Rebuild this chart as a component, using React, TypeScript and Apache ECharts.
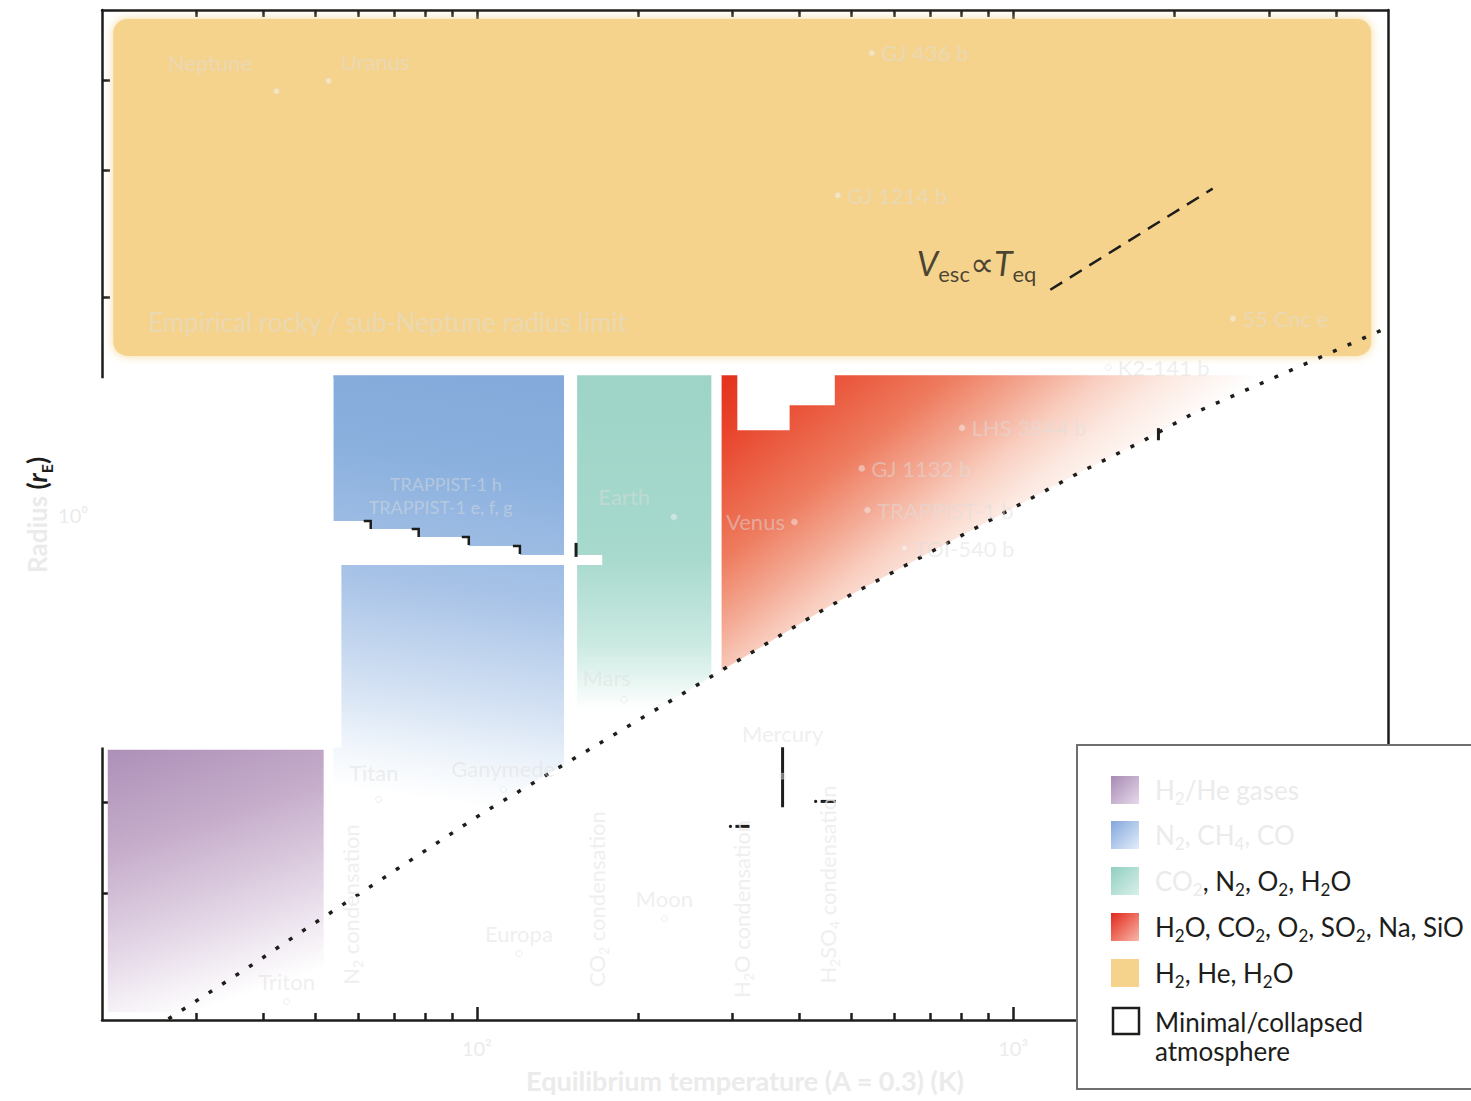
import React, { useEffect, useRef } from "react";
import * as echarts from "echarts";

// ---------------- axes ----------------
const T_MIN = 20;
const T_MAX = 5000;
const R_MIN = 0.2;
const R_MAX = 5;
const T_MINOR_TICKS = [30, 40, 50, 60, 70, 80, 90, 200, 300, 400, 500, 600, 700, 800, 900, 2000, 3000, 4000];
const T_MAJOR_TICKS = [100, 1000];
const T_TICK_LABELS = ["10²", "10³"];
const R_MINOR_TICKS = [0.3, 0.4, 0.5, 0.6, 0.7, 0.8, 0.9, 2, 3, 4];
const R_MAJOR_TICKS = [1];
const R_TICK_LABELS = ["10⁰"];
const X_TITLE = "Equilibrium temperature (A = 0.3) (K)";

// ---------------- regions: [T (K), radius (rE)] ----------------
const H2_HE_REGION = [[21, 4.86], [4650, 1.66]];
const COLD_REGION = [[20.5, 0.4734], [51.8, 0.4734], [51.8, 0.205], [20.5, 0.205]];
const N2_CH4_REGION = [[54.0, 1.561], [145.4, 1.561], [145.4, 0.4516], [103.1, 0.3877], [70.9, 0.3233], [55.9, 0.2884], [54.0, 0.2884]];
const CO2_N2_REGION = [[153.8, 1.561], [273.7, 1.561], [273.7, 0.5974], [153.8, 0.463]];
const HOT_REGION = [
  [286, 1.561], [306, 1.561], [306, 1.31], [383, 1.31], [383, 1.419], [465, 1.419], [465, 1.561],
  [3155, 1.561], [2170, 1.383], [1728, 1.261], [1334, 1.1465], [623, 0.8477], [449, 0.7442], [286, 0.609],
];
const ERASED_REGION = [
  [19.2, 1.546], [54.0, 1.546], [54.0, 0.981], [63.4, 0.981], [63.4, 0.9565], [77.9, 0.9565],
  [77.9, 0.9324], [96.6, 0.9324], [96.6, 0.9061], [120.3, 0.9061], [120.3, 0.8805], [171.3, 0.8805],
  [171.3, 0.853], [55.9, 0.853], [55.9, 0.4768], [19.2, 0.4768],
];

// ---------------- lines ----------------
const MIN_ATMOSPHERE_LINE = [
  [26.6, 0.2007], [37.8, 0.2375], [47.9, 0.2672], [70.9, 0.3233], [103.1, 0.3877], [449, 0.7442],
  [623, 0.8477], [1334, 1.1465], [1728, 1.261], [2170, 1.383], [4853, 1.801],
];
const ESCAPE_LINE = [[1173, 2.05], [2355, 2.83]];

// ---------------- bodies ----------------
const PLANETS: [string, number, number][] = [
  ["Neptune", 42.3, 3.86],
  ["Uranus", 52.9, 3.99],
  ["GJ 436 b", 545, 4.36],
  ["GJ 1214 b", 471, 2.77],
  ["55 Cnc e", 2570, 1.87],
  ["K2-141 b", 1505, 1.6],
  ["LHS 3844 b", 803, 1.32],
  ["GJ 1132 b", 522, 1.16],
  ["TRAPPIST-1 b", 535, 1.016],
  ["TOI-540 b", 627, 0.9],
  ["Venus", 391, 0.978],
  ["Earth", 233, 0.994],
  ["Mars", 188, 0.555],
  ["Titan", 65.6, 0.404],
  ["Ganymede", 112, 0.417],
  ["Europa", 119.8, 0.247],
  ["Moon", 223.6, 0.276],
  ["Mercury", 371.6, 0.435],
  ["Triton", 44.2, 0.212],
];
const NOTES: [string, number, number][] = [
  ["Empirical rocky / sub-Neptune radius limit", 24.4, 1.848],
];
const CENTER_NOTES: [string, number, number][] = [
  ["TRAPPIST-1 h", 87.5, 1.103],
  ["TRAPPIST-1 e, f, g", 85.6, 1.025],
];
const CONDENSATION_LABELS: [string, number, number][] = [
  ["N_{2} condensation", 58.1, 0.289],
  ["CO_{2} condensation", 167.5, 0.294],
  ["H_{2}O condensation", 311.6, 0.285],
  ["H_{2}SO_{4} condensation", 451, 0.308],
];
const ESCAPE_LABEL_ANCHOR = [655.7, 2.236];
// vertical black bars: [T, rLow, rHigh]
const VERTICAL_BARS = [[371.6, 0.394, 0.477], [1866, 1.269, 1.319], [153.1, 0.875, 0.915]];
// horizontal black marks: [T1, T2, r]
const HORIZONTAL_MARKS = [[303.5, 322.4, 0.3707], [437.6, 467, 0.4014]];
// staircase corners [T, r]
const STAIR_CORNERS = [[63.4, 0.981], [77.9, 0.9565], [96.6, 0.9324], [120.3, 0.9061]];

const LEGEND_LABELS = [
  "H_{2}/He gases",
  "N_{2}, CH_{4}, CO",
  "CO_{2}, N_{2}, O_{2}, H_{2}O",
  "H_{2}O, CO_{2}, O_{2}, SO_{2}, Na, SiO",
  "H_{2}, He, H_{2}O",
  "Minimal/collapsed\natmosphere",
];

// ---------------- style ----------------
const INK = "#1d1d1b";
const FAINT = "rgba(222,222,222,0.62)";
const FAINT_TXT = "#ebebeb";
const FONT = "Lato, 'Noto Sans', sans-serif";
const lg = Math.log10;

function toRich(s: string, base: string, sub: string) {
  const parts: string[] = [];
  const re = /_\{([^}]*)\}/g;
  let last = 0;
  let m: RegExpExecArray | null;
  while ((m = re.exec(s))) {
    if (m.index > last) parts.push(`{${base}|${s.slice(last, m.index)}}`);
    parts.push(`{${sub}|${m[1]}}`);
    last = re.lastIndex;
  }
  if (last < s.length) parts.push(`{${base}|${s.slice(last)}}`);
  return parts.join("");
}

function richStyles(size: number, color: string, lh: number) {
  return {
    n: { fontSize: size, color, fontFamily: FONT, lineHeight: lh, verticalAlign: "middle" },
    s: { fontSize: Math.round(size * 0.65), color, fontFamily: FONT, lineHeight: Math.round(size * 0.65), verticalAlign: "bottom" },
  };
}

function tickAxis(kind: "x" | "y", pos: string, ticks: number[], len: number, labels?: string[]) {
  const min = kind === "x" ? lg(T_MIN) : lg(R_MIN);
  const max = kind === "x" ? lg(T_MAX) : lg(R_MAX);
  const vals = ticks.map(lg);
  return {
    type: "value",
    min,
    max,
    position: pos,
    axisLine: { show: false, onZero: false },
    axisTick: { show: true, inside: true, length: len, customValues: vals, lineStyle: { color: INK, width: 2.5 } },
    axisLabel: labels
      ? {
          show: true,
          customValues: vals,
          margin: kind === "x" ? 18 : 14,
          color: FAINT_TXT,
          fontSize: 20,
          fontFamily: FONT,
          formatter: (v: number) => {
            const i = vals.findIndex((t) => Math.abs(t - v) < 1e-6);
            return i >= 0 ? labels[i] : "";
          },
        }
      : { show: false },
    splitLine: { show: false },
  };
}

function polygonSeries(verts: number[][], fill: (pts: number[][]) => any, z: number) {
  return {
    type: "custom",
    silent: true,
    clip: false,
    z,
    data: [verts[0]],
    renderItem: (_p: any, api: any) => {
      const pts = verts.map((v) => api.coord(v));
      return { type: "polygon", shape: { points: pts }, style: { fill: fill(pts) } };
    },
  };
}

function grad(p: number[], dx0: number, dy0: number, dx1: number, dy1: number, stops: [number, string][]) {
  return new echarts.graphic.LinearGradient(
    p[0] + dx0, p[1] + dy0, p[0] + dx1, p[1] + dy1,
    stops.map(([offset, color]) => ({ offset, color })),
    true
  );
}

function localGrad(stops: [number, string][]) {
  return new echarts.graphic.LinearGradient(0, 0, 1, 1, stops.map(([offset, color]) => ({ offset, color })));
}

const PLANET_LABEL_POS: Record<string, any> = {
  Neptune: [-105, -36],
  Uranus: [16, -27],
  Venus: "left",
  Earth: [-72, -28],
  Mars: [-38, -30],
  Titan: [-26, -34],
  Ganymede: "top",
  Europa: "top",
  Moon: "top",
  Triton: "top",
};

function buildOption() {
  const tok = (size: number, color: string, lh: number, va?: string) => ({
    fontSize: size, fill: color, color, fontFamily: FONT, lineHeight: lh, ...(va ? { verticalAlign: va } : {}),
  });
  const legendRich = {
    n: tok(26, INK, 34, "middle"),
    s: tok(17, INK, 17, "bottom"),
    f: tok(26, FAINT_TXT, 34, "middle"),
    fs: tok(17, FAINT_TXT, 17, "bottom"),
    m: tok(26, INK, 29),
  };
  const legendTexts = [
    toRich(LEGEND_LABELS[0], "f", "fs"),
    toRich(LEGEND_LABELS[1], "f", "fs"),
    "{f|CO}{fs|2}" + toRich(LEGEND_LABELS[2].slice(6), "n", "s"),
    toRich(LEGEND_LABELS[3], "n", "s"),
    toRich(LEGEND_LABELS[4], "n", "s"),
    LEGEND_LABELS[5].split("\n").map((l) => `{m|${l}}`).join("\n"),
  ];
  const swatchFills = [
    localGrad([[0, "#a78ab4"], [1, "#e6d9ea"]]),
    localGrad([[0, "#82a7dc"], [1, "#e3edf9"]]),
    localGrad([[0, "#91cfc1"], [1, "#d9f0ea"]]),
    localGrad([[0, "#e3261b"], [1, "#f7b9a9"]]),
    "#f5d38d",
  ];
  const rowY = [790, 835, 881, 927, 973];
  const legendGraphics: any[] = [
    { type: "rect", z: 100, shape: { x: 1077, y: 745, width: 420, height: 344 }, style: { fill: "#fff", stroke: "#6f6f6f", lineWidth: 2 } },
  ];
  rowY.forEach((y, i) => {
    legendGraphics.push({ type: "rect", z: 101, shape: { x: 1111, y: y - 14, width: 28, height: 28 }, style: { fill: swatchFills[i] } });
    legendGraphics.push({
      type: "text", z: 101, x: 1155, y,
      style: { text: legendTexts[i], rich: legendRich, verticalAlign: "middle", align: "left", fill: INK },
    });
  });
  legendGraphics.push({ type: "rect", z: 101, shape: { x: 1113, y: 1008, width: 26, height: 26 }, style: { fill: "none", stroke: INK, lineWidth: 2.5 } });
  legendGraphics.push({
    type: "text", z: 101, x: 1155, y: 1036,
    style: { text: legendTexts[5], rich: legendRich, verticalAlign: "middle", align: "left", fill: INK },
  });

  const condRich = richStyles(22, FAINT_TXT, 28);

  return {
    animation: false,
    backgroundColor: "#fff",
    grid: { left: 102, right: 83, top: 10, bottom: 81, containLabel: false, outerBoundsMode: "none" },
    xAxis: [
      {
        type: "log", min: T_MIN, max: T_MAX, position: "bottom",
        axisLine: { show: true, onZero: false, lineStyle: { color: INK, width: 2.5 } },
        axisTick: { show: false }, axisLabel: { show: false }, splitLine: { show: false }, minorTick: { show: false },
        name: X_TITLE, nameLocation: "middle", nameGap: 47,
        nameTextStyle: { color: FAINT_TXT, fontSize: 27, fontWeight: "bold", fontFamily: FONT },
      },
      {
        type: "log", min: T_MIN, max: T_MAX, position: "top",
        axisLine: { show: true, onZero: false, lineStyle: { color: INK, width: 2.5 } },
        axisTick: { show: false }, axisLabel: { show: false }, splitLine: { show: false },
      },
      tickAxis("x", "bottom", T_MINOR_TICKS, 7),
      tickAxis("x", "bottom", T_MAJOR_TICKS, 13, T_TICK_LABELS),
      tickAxis("x", "top", T_MINOR_TICKS, 7),
      tickAxis("x", "top", T_MAJOR_TICKS, 13),
    ],
    yAxis: [
      {
        type: "log", min: R_MIN, max: R_MAX, position: "left",
        axisLine: { show: true, onZero: false, lineStyle: { color: INK, width: 2.5 } },
        axisTick: { show: false }, axisLabel: { show: false }, splitLine: { show: false },
        name: "{f|Radius }{b|(}{bi|r}{bs|E}{b|)}", nameLocation: "middle", nameGap: 48,
        nameTextStyle: {
          rich: {
            f: { fontSize: 26, fontWeight: "bold", color: FAINT_TXT, fontFamily: FONT, lineHeight: 34, verticalAlign: "middle" },
            b: { fontSize: 26, fontWeight: "bold", color: INK, fontFamily: FONT, lineHeight: 34, verticalAlign: "middle" },
            bi: { fontSize: 26, fontWeight: "bold", fontStyle: "italic", color: INK, fontFamily: FONT, lineHeight: 34, verticalAlign: "middle" },
            bs: { fontSize: 16, fontWeight: "bold", color: INK, fontFamily: FONT, lineHeight: 16, verticalAlign: "bottom" },
          },
        },
      },
      {
        type: "log", min: R_MIN, max: R_MAX, position: "right",
        axisLine: { show: true, onZero: false, lineStyle: { color: INK, width: 2.5 } },
        axisTick: { show: false }, axisLabel: { show: false }, splitLine: { show: false },
      },
      tickAxis("y", "left", R_MINOR_TICKS, 8),
      tickAxis("y", "left", R_MAJOR_TICKS, 13, R_TICK_LABELS),
    ],
    series: [
      // H2/He envelope region
      {
        type: "custom", silent: true, clip: false, z: 1,
        data: [H2_HE_REGION[0]],
        renderItem: (_p: any, api: any) => {
          const a = api.coord(H2_HE_REGION[0]);
          const b = api.coord(H2_HE_REGION[1]);
          return {
            type: "rect",
            shape: { x: a[0], y: a[1], width: b[0] - a[0], height: b[1] - a[1], r: 14 },
            style: { fill: "#f5d38d", shadowBlur: 10, shadowColor: "rgba(245,211,141,0.9)" },
          };
        },
      },
      polygonSeries(COLD_REGION, (p) => grad(p[0], 0, 0, 90, 262, [[0, "#ad90b8"], [0.35, "#c5acca"], [0.7, "#e3d6e6"], [1, "#ffffff"]]), 1),
      polygonSeries(N2_CH4_REGION, (p) => grad(p[0], 120, 0, 60, 420, [[0, "#84aadb"], [0.2, "#8ab0de"], [0.5, "#a8c3e7"], [0.75, "#d3e1f3"], [0.92, "#f4f8fc"], [1, "#ffffff"]]), 1),
      polygonSeries(CO2_N2_REGION, (p) => grad(p[0], 60, 0, 60, 360, [[0, "#9dd4c7"], [0.5, "#a7d9cd"], [0.75, "#cbeae2"], [0.93, "#ffffff"]]), 1),
      polygonSeries(HOT_REGION, (p) => grad(p[0], 0, 0, 300, 375, [[0, "#e4301d"], [0.1, "#e8452c"], [0.3, "#ee7b5e"], [0.42, "#f4ad98"], [0.5, "#f9d0c2"], [0.58, "#fce8e0"], [0.7, "#ffffff"]]), 1),
      polygonSeries(ERASED_REGION, () => "#ffffff", 3),
      // minimal atmosphere boundary
      {
        type: "line", silent: true, z: 6, symbol: "none", data: MIN_ATMOSPHERE_LINE,
        lineStyle: { color: INK, width: 3.5, type: [4, 12] },
      },
      // escape line
      {
        type: "line", silent: true, z: 6, symbol: "none", data: ESCAPE_LINE,
        lineStyle: { color: INK, width: 2.5, type: [14, 9] },
      },
      // black marks
      {
        type: "custom", silent: true, clip: false, z: 6, data: VERTICAL_BARS,
        renderItem: (_p: any, api: any) => {
          const a = api.coord([api.value(0), api.value(1)]);
          const b = api.coord([api.value(0), api.value(2)]);
          return { type: "line", shape: { x1: a[0], y1: a[1], x2: b[0], y2: b[1] }, style: { stroke: INK, lineWidth: 3 } };
        },
      },
      {
        type: "custom", silent: true, clip: false, z: 6, data: HORIZONTAL_MARKS,
        renderItem: (_p: any, api: any) => {
          const a = api.coord([api.value(0), api.value(2)]);
          const b = api.coord([api.value(1), api.value(2)]);
          return {
            type: "group",
            children: [
              { type: "line", shape: { x1: a[0], y1: a[1], x2: b[0], y2: b[1] }, style: { stroke: INK, lineWidth: 3 } },
              { type: "circle", shape: { cx: a[0] - 5, cy: a[1], r: 1.6 }, style: { fill: INK } },
            ],
          };
        },
      },
      {
        type: "custom", silent: true, clip: false, z: 6, data: STAIR_CORNERS,
        renderItem: (_p: any, api: any) => {
          const c = api.coord([api.value(0), api.value(1)]);
          return {
            type: "polyline",
            shape: { points: [[c[0] - 7, c[1]], [c[0], c[1]], [c[0], c[1] + 8]] },
            style: { stroke: INK, lineWidth: 2.5, fill: "none" },
          };
        },
      },
      // planets and bodies
      {
        type: "scatter", silent: true, z: 7, symbol: "circle", symbolSize: 6,
        itemStyle: { color: "rgba(255,255,255,0.5)", borderColor: "rgba(215,215,215,0.55)", borderWidth: 1 },
        label: { show: true, formatter: "{b}", color: FAINT, fontSize: 22, fontFamily: FONT, position: "right", distance: 6 },
        data: PLANETS.map(([name, t, r]) => ({
          name,
          value: [t, r],
          label: name === "Mercury" ? { position: "top", distance: 28 } : { position: PLANET_LABEL_POS[name] || "right" },
        })),
      },
      // free notes
      {
        type: "scatter", silent: true, z: 7, symbolSize: 0,
        label: { show: true, formatter: "{b}", color: FAINT, fontSize: 26, fontFamily: FONT, position: "right", distance: 0 },
        data: NOTES.map(([name, t, r]) => ({ name, value: [t, r] })),
      },
      {
        type: "scatter", silent: true, z: 7, symbolSize: 0,
        label: { show: true, formatter: "{b}", color: FAINT, fontSize: 18, fontFamily: FONT, position: "inside" },
        data: CENTER_NOTES.map(([name, t, r]) => ({ name, value: [t, r] })),
      },
      {
        type: "scatter", silent: true, z: 7, symbolSize: 1,
        itemStyle: { color: "rgba(0,0,0,0)" },
        label: { show: true, rotate: 90, position: "inside", rich: condRich },
        data: CONDENSATION_LABELS.map(([name, t, r]) => ({
          name, value: [t, r], label: { formatter: toRich(name, "n", "s") },
        })),
      },
      // Vesc ∝ Teq label
      {
        type: "scatter", silent: true, z: 8, symbolSize: 0,
        data: [{ name: "escape", value: ESCAPE_LABEL_ANCHOR }],
        label: {
          show: true, position: "right", distance: 2,
          formatter: "{v|V}{s|esc}{p|∝}{v|T}{s|eq}",
          rich: {
            v: { fontSize: 34, fontStyle: "italic", color: INK, fontFamily: FONT, lineHeight: 44, verticalAlign: "middle" },
            p: { fontSize: 34, color: INK, fontFamily: FONT, lineHeight: 44, verticalAlign: "middle" },
            s: { fontSize: 22, color: INK, fontFamily: FONT, lineHeight: 22, verticalAlign: "bottom" },
          },
        },
      },
    ],
    graphic: legendGraphics,
  };
}

export default function App() {
  const ref = useRef<HTMLDivElement>(null);
  useEffect(() => {
    const chart = echarts.init(ref.current as HTMLDivElement, null, { renderer: "svg" });
    chart.setOption(buildOption() as any);
    return () => chart.dispose();
  }, []);
  return (
    <div
      ref={ref}
      style={{ position: "absolute", left: 0, top: 0, width: 1471, height: 1101, background: "#fff" }}
    />
  );
}
